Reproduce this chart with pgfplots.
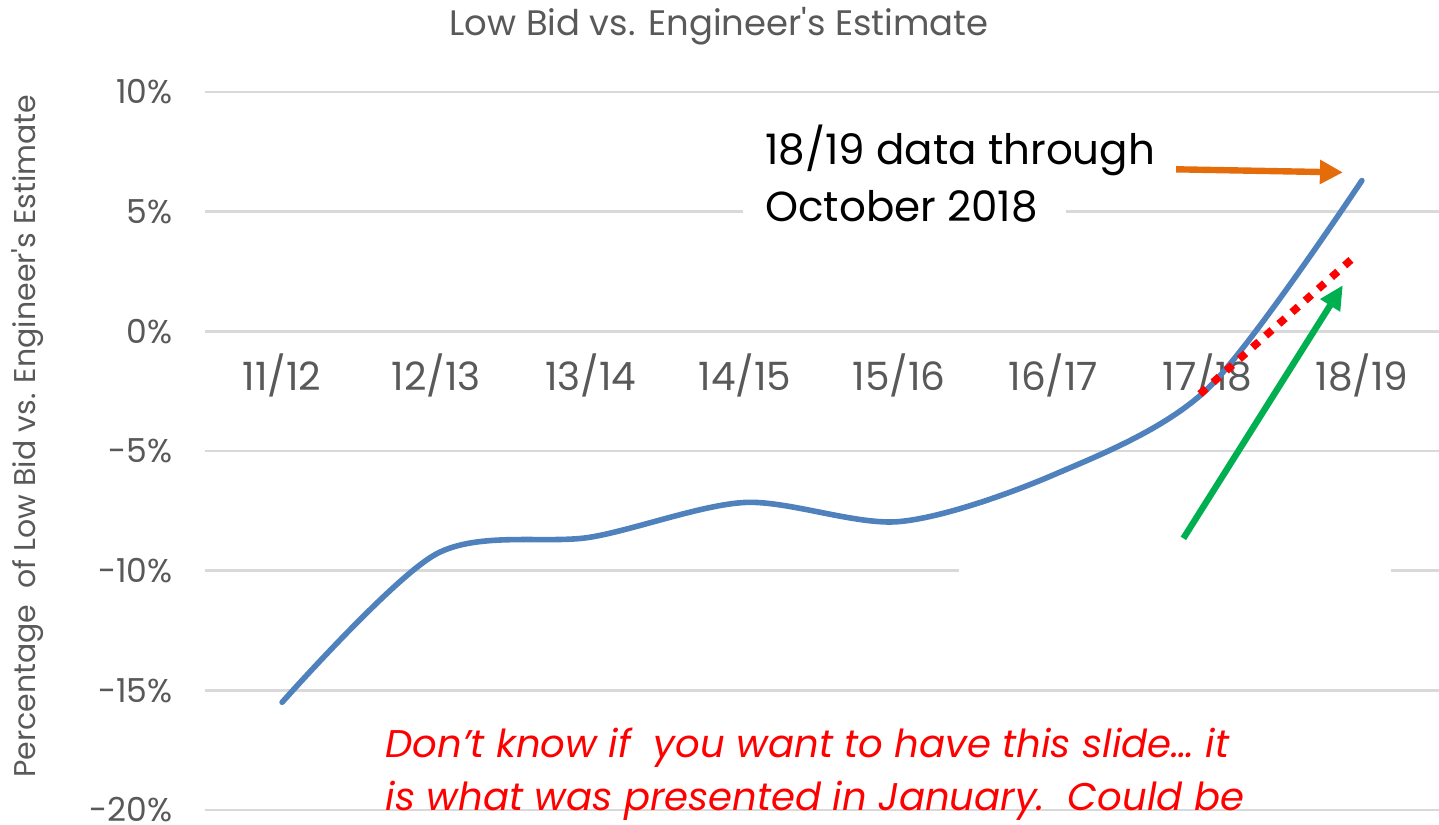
\documentclass[border=0pt]{standalone}
\usepackage{fontspec}
\setmainfont{Poppins}
\usepackage{pgfplots}
\pgfplotsset{compat=1.18}
\usetikzlibrary{arrows.meta}
\definecolor{lineblue}{HTML}{4F81BD}
\definecolor{txtgray}{HTML}{595959}
\definecolor{gridgray}{HTML}{D9D9D9}
\definecolor{arrgreen}{HTML}{00B050}
\definecolor{arrorange}{HTML}{E46C0A}

\begin{document}
\begin{tikzpicture}
\path[use as bounding box] (-102.5pt,-7pt) rectangle (617pt,405pt);
\begin{axis}[at={(0,0)},anchor=south west,scale only axis,
 width=617pt,height=359pt,
 xmin=-0.5,xmax=7.5,ymin=-20,ymax=10,
 axis x line*=middle,axis y line*=left,
 axis line style={draw=none},major tick style={draw=none},
 xtick={0,...,7},
 xticklabels={11/12,12/13,13/14,14/15,15/16,16/17,17/18,18/19},
 ytick={-20,-15,...,10},
 yticklabels={-20\%,-15\%,-10\%,-5\%,0\%,5\%,10\%},
 ymajorgrids,grid style={gridgray,line width=1.2pt},
 xticklabel style={anchor=north,inner sep=0pt,yshift=-11pt,font=\fontsize{19.5}{22}\selectfont,text=txtgray},
 yticklabel style={anchor=east,inner sep=0pt,xshift=-16pt,font=\fontsize{16.5}{19}\selectfont,text=txtgray},
 clip=false]
% text-box fills that break the gridlines
\fill[white] (axis cs:2.99,4.6) rectangle (axis cs:5.08,5.4);
\fill[white] (axis cs:4.39,-10.4) rectangle (axis cs:7.19,-9.6);
\addplot[lineblue,line width=2.8pt,smooth,line cap=round] coordinates {
 (0,-15.5) (1,-9.3) (2,-8.6) (3,-7.15) (4,-7.95) (5,-6.0) (6,-2.4) (7,6.3)};
\addplot[red,line width=3.8pt,dash pattern=on 4.2pt off 4.6pt] coordinates {
 (5.95,-2.62) (6.97,3.22)};
\draw[arrgreen,line width=3.2pt,-{Triangle[width=11pt,length=12pt]}]
 (axis cs:5.843,-8.65) -- (axis cs:6.877,1.93);
\draw[arrorange,line width=3.2pt,-{Triangle[width=11.5pt,length=11.5pt]}]
 (axis cs:5.796,6.77) -- (axis cs:6.877,6.64);
% title and labels
\node[anchor=base,text=txtgray,font=\fontsize{17.7}{21}\selectfont]
 at (axis cs:2.833,12.38) {Low Bid vs. Engineer\textquotesingle s Estimate};
\node[rotate=90,text=txtgray,font=\fontsize{15}{18}\selectfont]
 at (axis cs:-1.647,-4.38) {Percentage\ \ of Low Bid vs. Engineer\textquotesingle s Estimate};
\node[anchor=base west,inner sep=0pt,font=\fontsize{21}{25}\selectfont]
 at (axis cs:3.131,6.95) {18/19 data through};
\node[anchor=base west,inner sep=0pt,font=\fontsize{21}{25}\selectfont]
 at (axis cs:3.131,4.57) {October 2018};
\node[anchor=base west,inner sep=0pt,text=red,font=\fontsize{19.3}{23}\itshape]
 at (axis cs:0.668,-17.79) {Don’t know if\ \ you want to have this slide… it};
\node[anchor=base west,inner sep=0pt,text=red,font=\fontsize{19.3}{23}\itshape]
 at (axis cs:0.668,-20.0) {is what was presented in January.\ \ Could be};
\end{axis}
\end{tikzpicture}
\end{document}
